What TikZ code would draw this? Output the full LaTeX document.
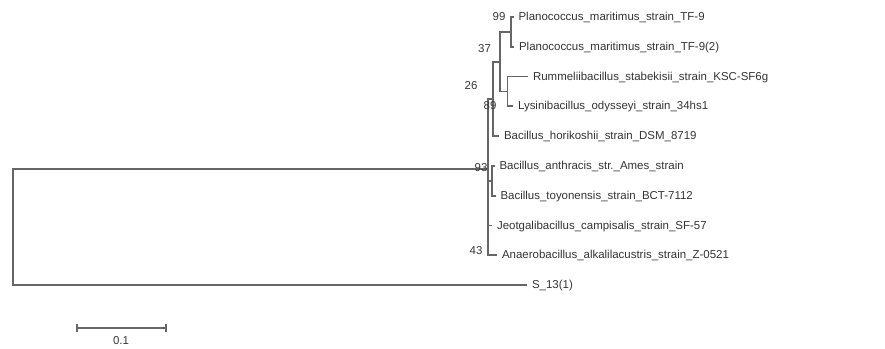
\documentclass[tikz,border=0pt]{standalone}
\usepackage{fontspec}
\setmainfont{Liberation Sans}
\newcommand{\taxfont}{\fontsize{8.6}{10}\selectfont}
\tikzset{
  branch/.style={draw=black!60, line width=1.3pt},
  taxon/.style={anchor=west, inner xsep=3.6pt, inner ysep=0pt, text height=6pt, text depth=0.6pt, text=black!80, font=\taxfont},
  boot/.style={inner sep=0pt, text=black!78, font=\taxfont}
}
\begin{document}
\begin{tikzpicture}[x=0.75pt, y=-0.75pt]
      \useasboundingbox (0,0) rectangle (885,349);
      % internal nodes
      \coordinate (root) at (13,227);
      \coordinate (n93) at (487.7,169);
      \coordinate (n26) at (492.7,99);
      \coordinate (n37) at (500,61.7);
      \coordinate (n99) at (511,31.9);
      \coordinate (nRL) at (507.5,91.5);
      \coordinate (nAT) at (492,180.8);
      \coordinate (n43) at (487.7,240.3);
      % taxa
      \node[taxon] (planoA) at (513.5,17) {Planococcus\_maritimus\_strain\_TF-9};
      \node[taxon] (planoB) at (514,46.8) {Planococcus\_maritimus\_strain\_TF-9(2)};
      \node[taxon] (rumm) at (528,76.6) {Rummeliibacillus\_stabekisii\_strain\_KSC-SF6g};
      \node[taxon] (lysin) at (513,106.3) {Lysinibacillus\_odysseyi\_strain\_34hs1};
      \node[taxon] (horik) at (499,136.1) {Bacillus\_horikoshii\_strain\_DSM\_8719};
      \node[taxon] (anthr) at (494.5,165.9) {Bacillus\_anthracis\_str.\_Ames\_strain};
      \node[taxon] (toyon) at (495.5,195.7) {Bacillus\_toyonensis\_strain\_BCT-7112};
      \node[taxon] (jeotg) at (492,225.4) {Jeotgalibacillus\_campisalis\_strain\_SF-57};
      \node[taxon] (anaer) at (497,255.2) {Anaerobacillus\_alkalilacustris\_strain\_Z-0521};
      \node[taxon] (s13) at (527,285) {S\_13(1)};
      % branches
      \draw[branch] (root) |- (n93);
      \draw[branch] (root) |- (s13.west);
      \foreach \c in {n26,nAT,n43}
        \draw[branch] (n93) |- (\c);
      \draw[branch] (n26) |- (n37);
      \draw[branch] (n26) |- (horik.west);
      \draw[branch] (n37) |- (n99);
      \draw[branch] (n37) |- (nRL);
      \foreach \p/\c in {n99/planoA,n99/planoB,nRL/rumm,nRL/lysin,nAT/anthr,nAT/toyon,n43/jeotg,n43/anaer}
        \draw[branch] (\p) |- (\c.west);
      % bootstrap values
      \node[boot] (b99) at (499,17) {99};
      \node[boot] (b37) at (484.5,49) {37};
      \node[boot] (b26) at (471,86) {26};
      \node[boot] (b89) at (490,105.5) {89};
      \node[boot] (b93) at (481,168) {93};
      \node[boot] (b43) at (476,251) {43};
      % scale bar
      \coordinate (sbL) at (77,328);
      \coordinate (sbR) at (166,328);
      \draw[branch] (sbL) -- (sbR);
      \foreach \c in {sbL,sbR}
        \draw[branch] ([yshift=3pt]\c) -- ([yshift=-3pt]\c);
      \node[boot] (sblabel) at (121,341) {0.1};
\end{tikzpicture}
\end{document}
